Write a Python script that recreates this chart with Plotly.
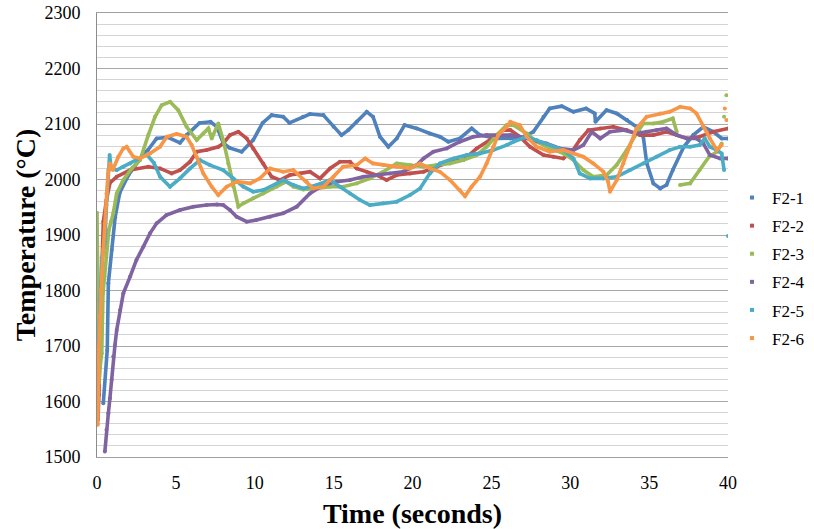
import plotly.graph_objects as go

# ---------------- data ----------------
series_names = ["F2-1", "F2-2", "F2-3", "F2-4", "F2-5", "F2-6"]
series_colors = ["#4F81BD", "#C0504D", "#9BBB59", "#8064A2", "#4BACC6", "#F79646"]

x_ticks = [0, 5, 10, 15, 20, 25, 30, 35, 40]
y_ticks = [1500, 1600, 1700, 1800, 1900, 2000, 2100, 2200, 2300]

t_f21 = [0.4, 0.65, 0.72, 0.93, 1.15, 1.44, 2.0, 3.0, 3.23, 3.78, 4.5, 5.26, 5.68, 6.5, 7.2, 7.6,
         8.0, 8.4, 9.17, 9.9, 10.5, 11.07, 11.8, 12.2, 13.06, 13.5, 14.35, 15.0, 15.5, 15.93, 16.46,
         17.1, 17.5, 17.94, 18.47, 19.0, 19.5, 20.27, 21.1, 21.74, 22.27, 23.0, 23.75, 24.28, 25.34,
         26.2, 26.9, 27.66, 28.3, 28.7, 29.46, 30.2, 31.0, 31.55, 31.6, 32.3, 32.95, 33.6, 34.2,
         34.63, 34.85, 35.27, 35.7, 36.1, 36.5, 37.2, 37.8, 38.43, 39.07, 39.6, 40.0]
v_f21 = [1597, 1693, 1813, 1873, 1932, 1976, 2008, 2048, 2053, 2074, 2076, 2066, 2080, 2102, 2104, 2095,
         2066, 2057, 2050, 2071, 2102, 2116, 2113, 2102, 2113, 2118, 2116, 2095, 2080, 2089, 2104,
         2122, 2113, 2077, 2059, 2074, 2098, 2092, 2083, 2077, 2068, 2074, 2092, 2080, 2074,
         2074, 2075, 2086, 2113, 2128, 2132, 2122, 2128, 2119, 2104, 2125, 2119, 2107, 2095,
         2077, 2029, 1993, 1984, 1990, 2017, 2059, 2080, 2095, 2086, 2074, 2074]

t_f22 = [0.0, 0.03, 0.06, 0.12, 0.2, 0.3, 0.4, 0.6, 0.82, 1.25, 2.1, 3.25, 4.0, 4.73, 5.26, 5.9, 6.32,
         6.95, 7.7, 8.0, 8.43, 8.96, 9.49, 9.9, 10.54, 11.07, 11.6, 12.23, 12.87, 13.5, 14.14, 14.77,
         15.4, 16.04, 16.46, 17.1, 17.73, 18.36, 19.0, 19.84, 20.7, 21.53, 22.38, 23.22, 24.07, 24.9,
         25.75, 26.2, 26.8, 27.45, 28.3, 28.93, 29.56, 30.1, 30.6, 31.15, 31.9, 32.73, 33.58, 34.42,
         35.27, 36.1, 36.75, 37.4, 38.2, 39.07, 40.0]
v_f22 = [1729, 1651, 1567, 1612, 1740, 1830, 1924, 1963, 1994, 2005, 2017, 2023, 2020, 2011, 2017, 2032, 2050,
         2053, 2059, 2065, 2080, 2086, 2074, 2056, 2029, 2005, 1999, 2008, 2011, 2014, 2002, 2020,
         2032, 2032, 2020, 2014, 2008, 1999, 2008, 2011, 2014, 2023, 2032, 2035, 2056, 2071,
         2089, 2089, 2077, 2059, 2044, 2041, 2038, 2050, 2071, 2089, 2092, 2095, 2089, 2080,
         2080, 2086, 2080, 2074, 2077, 2086, 2092]

t_f23 = [0.0, 0.05, 0.12, 0.2, 0.3, 0.38, 0.48, 0.62, 0.75, 0.9, 1.03, 1.25, 1.67, 2.2, 2.73, 3.25, 3.68,
         4.1, 4.63, 5.15, 5.68, 6.32, 6.74, 7.06, 7.27, 7.69, 8.0, 8.32, 8.64, 8.96, 9.28, 9.9, 10.54,
         11.4, 12.0, 12.45, 13.08, 13.93, 14.77, 15.6, 16.46, 17.3, 18.15, 19.0, 19.84, 20.7, 21.53,
         22.38, 23.22, 24.07, 24.7, 25.34, 25.97, 26.4, 27.24, 27.87, 28.7, 29.56, 30.2, 30.83, 31.46,
         32.3, 32.94, 33.58, 34.2, 34.63, 35.27, 35.9, 36.5, 36.75, 36.85, 36.96, 37.6, 38.2, 38.8,
         39.3, 39.6, 39.7, 39.75, 39.85, 39.9]
v_f23 = [1940, 1741, 1633, 1663, 1687, 1795, 1825, 1877, 1909, 1925, 1939, 1975, 1999, 2020, 2035, 2080, 2113,
         2134, 2140, 2125, 2095, 2071, 2083, 2092, 2074, 2101, 2071, 2029, 1987, 1951, 1957, 1966, 1975,
         1987, 1996, 1987, 1982, 1984, 1987, 1987, 1993, 2002, 2014, 2029, 2026, 2023, 2026,
         2029, 2035, 2044, 2059, 2080, 2098, 2098, 2083, 2068, 2056, 2047, 2035, 2017, 2005,
         2008, 2026, 2053, 2083, 2101, 2101, 2104, 2110, 2086, None, 1990, 1993, 2017, 2041,
         2050, 2065, None, 2113, None, 2152]

t_f24 = [0.5, 0.6, 0.72, 0.82, 0.93, 1.03, 1.14, 1.25, 1.46, 1.67, 2.1, 2.5, 2.94, 3.36, 3.78, 4.4, 5.26,
         6.1, 6.95, 7.6, 8.0, 8.43, 8.85, 9.49, 10.1, 10.97, 11.8, 12.66, 13.5, 14.35, 15.2, 16.04,
         16.88, 17.73, 18.57, 19.4, 20.27, 20.7, 21.32, 22.17, 23.0, 23.85, 24.7, 25.55, 26.2, 26.8,
         27.66, 28.5, 29.35, 30.2, 30.83, 31.36, 31.9, 32.52, 33.36, 34.2, 34.84, 35.48, 36.1, 36.75,
         37.4, 38.0, 38.43, 38.85, 39.5, 40.0]
v_f24 = [1510, 1549, 1579, 1606, 1639, 1681, 1702, 1729, 1765, 1795, 1825, 1855, 1879, 1903, 1921, 1936, 1945,
         1951, 1954, 1955, 1954, 1945, 1933, 1924, 1927, 1933, 1939, 1951, 1975, 1990, 1996, 1999,
         2005, 2008, 2011, 2014, 2026, 2038, 2050, 2056, 2068, 2077, 2080, 2080, 2080, 2077,
         2071, 2065, 2056, 2053, 2062, 2086, 2074, 2086, 2089, 2083, 2086, 2089, 2092, 2080,
         2074, 2074, 2065, 2044, 2038, 2038]

t_f25 = [0.0, 0.1, 0.2, 0.3, 0.5, 0.6, 0.72, 0.8, 0.9, 1.25, 1.67, 2.1, 2.5, 3.15, 3.6, 4.0, 4.63, 5.26,
         5.9, 6.53, 7.16, 8.0, 8.64, 9.28, 9.9, 10.54, 11.4, 11.8, 12.45, 13.08, 13.93, 14.77, 15.4,
         16.04, 16.67, 17.3, 18.15, 19.0, 19.84, 20.48, 21.1, 21.74, 22.6, 23.43, 24.28, 25.12, 25.97,
         26.4, 27.24, 27.87, 28.7, 29.56, 30.2, 30.6, 31.25, 32.1, 32.94, 33.78, 34.63, 35.48, 36.3,
         36.96, 37.6, 38.2, 38.53, 38.85, 39.3, 39.6, 39.75, 39.9, 40.0]
v_f25 = [1567, 1708, 1783, 1855, 1888, 1954, 2017, 2044, 2020, 2017, 2023, 2029, 2035, 2045, 2030, 2005, 1987, 2002,
         2020, 2035, 2026, 2017, 2002, 1987, 1978, 1981, 1993, 1999, 1990, 1984, 1990, 1999, 1987,
         1975, 1963, 1954, 1957, 1960, 1972, 1984, 2011, 2029, 2038, 2044, 2047, 2053, 2062,
         2068, 2077, 2071, 2062, 2053, 2038, 2011, 2002, 2002, 2005, 2017, 2029, 2041, 2053,
         2059, 2059, 2062, 2074, 2059, 2053, 2047, 2017, None, 1898]

t_f26 = [0.0, 0.05, 0.12, 0.18, 0.25, 0.3, 0.4, 0.5, 0.6, 0.7, 0.82, 1.0, 1.35, 1.67, 1.88, 2.3, 2.73,
         3.36, 4.0, 4.42, 5.05, 5.68, 6.0, 6.32, 6.74, 7.27, 7.69, 8.22, 8.86, 9.7, 10.33, 10.97, 11.8,
         12.45, 13.3, 13.7, 14.35, 15.0, 15.6, 16.46, 17.0, 17.5, 18.15, 19.0, 19.84, 20.48, 21.1,
         21.74, 22.38, 23.0, 23.33, 23.75, 24.28, 24.7, 25.12, 25.43, 25.97, 26.2, 26.8, 27.24, 27.87,
         28.7, 29.56, 30.2, 30.83, 31.46, 32.1, 32.4, 32.52, 32.95, 33.37, 33.78, 34.2, 34.84, 35.7,
         36.3, 36.96, 37.6, 38.0, 38.43, 38.85, 39.3, 39.6, 39.7, 39.8, 39.85, 39.9]
v_f26 = [1594, 1558, 1693, 1753, 1801, 1825, 1873, 1921, 1975, 2011, 2029, 2017, 2041, 2056, 2059, 2041, 2038,
         2047, 2059, 2077, 2082, 2077, 2062, 2041, 2011, 1987, 1972, 1987, 1996, 1993, 2002, 2020, 2014,
         2017, 1996, 1984, 1987, 2005, 2023, 2026, 2038, 2029, 2026, 2023, 2020, 2029, 2020,
         2014, 1999, 1981, 1970, 1987, 2005, 2029, 2059, 2080, 2095, 2104, 2098, 2077, 2059,
         2050, 2053, 2047, 2041, 2029, 2014, 1996, 1978, 1999, 2029, 2059, 2092, 2113, 2119,
         2122, 2131, 2128, 2119, 2095, 2074, 2053, 2062, None, 2128, None, 2107]

series_t = [t_f21, t_f22, t_f23, t_f24, t_f25, t_f26]
series_v = [v_f21, v_f22, v_f23, v_f24, v_f25, v_f26]

# ---------------- figure ----------------
FONT = "Liberation Serif"
W, H = 814, 529
fig = go.Figure()

for name, color, tt, vv in zip(series_names, series_colors, series_t, series_v):
    fig.add_trace(go.Scatter(
        x=tt, y=vv, name=name, mode="lines+markers",
        line=dict(color=color, width=3.6),
        marker=dict(color=color, size=4),
        showlegend=False, hoverinfo="x+y+name",
    ))

# legend entries shown as small markers only (as in the reference)
for name, color in zip(series_names, series_colors):
    fig.add_trace(go.Scatter(
        x=[None], y=[None], name=name, mode="markers", legendgroup=name,
        marker=dict(color=color, size=4, symbol="square"),
        showlegend=True,
    ))

fig.update_layout(
    width=W, height=H,
    margin=dict(l=97, r=86, t=13, b=72, autoexpand=False),
    plot_bgcolor="white", paper_bgcolor="white",
    font=dict(family=FONT, color="black", size=18),
    legend=dict(
        xref="container", yref="container",
        x=732 / W, xanchor="left", y=1 - 180 / H, yanchor="top",
        traceorder="grouped", tracegroupgap=3,
        font=dict(family=FONT, size=17, color="black"),
        bgcolor="rgba(0,0,0,0)",
    ),
    xaxis=dict(
        range=[0, 40], tickvals=x_ticks, ticktext=[str(v) for v in x_ticks],
        showgrid=False, zeroline=False, automargin=False,
        showline=True, mirror=True, linecolor="#a0a0a0", linewidth=1,
        ticks="", ticklabelstandoff=9, tickfont=dict(family=FONT, size=18, color="black"),
        title=dict(text="Time (seconds)", standoff=16,
                   font=dict(family=FONT, size=28, color="black", weight="bold")),
    ),
    yaxis=dict(
        range=[1500, 2300], tickvals=y_ticks, ticktext=[str(v) for v in y_ticks],
        showgrid=True, gridcolor="#a8a8a8", gridwidth=1, zeroline=False, automargin=False,
        showline=True, linecolor="#8c8c8c", linewidth=1,
        minor=dict(dtick=20, showgrid=True, gridcolor="#d4d4d4", gridwidth=1, ticks=""),
        ticks="", ticklabelstandoff=12, ticklabeloverflow="allow",
        tickfont=dict(family=FONT, size=18, color="black"),
        title=dict(text="Temperature (°C)", standoff=0,
                   font=dict(family=FONT, size=28, color="black", weight="bold")),
    ),
)

# remove the browser's default 8px page margin so the figure fills the window exactly
page_css = ("document.body.style.margin='0';document.body.style.padding='0';"
            "document.documentElement.style.overflow='hidden';")
fig.write_html("out.html", post_script=page_css, config={"displayModeBar": False})
